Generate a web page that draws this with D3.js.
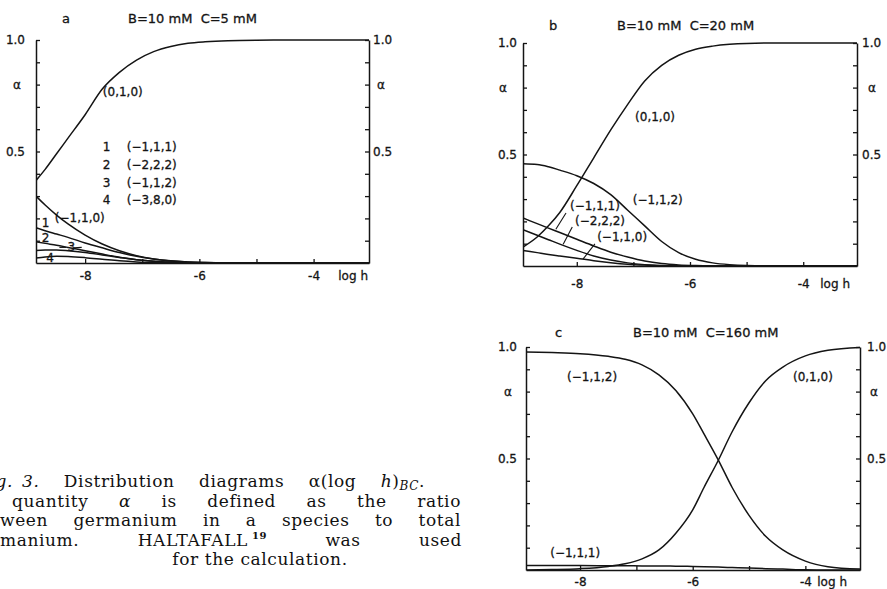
<!DOCTYPE html>
<html>
<head>
<meta charset="utf-8">
<script src="https://cdn.jsdelivr.net/npm/d3@7"></script>
<style>
  body { margin: 0; background: #fff; overflow: hidden; }
  svg { display: block; }
  .lbl { font-family: "DejaVu Sans", sans-serif; font-size: 12px; fill: #141414; stroke: #141414; stroke-width: 0.3px; }
  .ttl { font-family: "DejaVu Sans", sans-serif; font-size: 13px; fill: #141414; stroke: #141414; stroke-width: 0.3px; }
  .cap { font-family: "DejaVu Serif", serif; font-size: 17px; letter-spacing: 0.6px; fill: #111; }
</style>
</head>
<body>
<script>
// ---- data (log h vs alpha) ----
// panel a  B=10 mM C=5 mM
const LOGH_A = [-8.86, -8.7, -8.5, -8.3, -8.0, -7.7, -7.4, -7.1, -6.8, -6.5, -6.2, -5.9, -5.5, -5.0, -4.0, -3.03];
const A_010  = [0.37, 0.42, 0.49, 0.56, 0.665, 0.78, 0.855, 0.91, 0.948, 0.971, 0.985, 0.992, 0.997, 0.999, 1, 1];
const A_M110 = [0.30, 0.26, 0.215, 0.175, 0.125, 0.085, 0.055, 0.033, 0.018, 0.009, 0.004, 0.002, 0.0005, 0, 0, 0];
const A_M111 = [0.158, 0.145, 0.13, 0.115, 0.09, 0.068, 0.047, 0.03, 0.018, 0.01, 0.005, 0.002, 0.0005, 0, 0, 0];
const A_M222 = [0.095, 0.088, 0.08, 0.07, 0.055, 0.04, 0.026, 0.015, 0.008, 0.004, 0.0015, 0.0005, 0, 0, 0, 0];
const A_M112 = [0.056, 0.058, 0.058, 0.055, 0.047, 0.036, 0.025, 0.015, 0.008, 0.004, 0.0015, 0.0005, 0, 0, 0, 0];
const A_M380 = [0.022, 0.027, 0.03, 0.029, 0.024, 0.017, 0.01, 0.005, 0.002, 0.0008, 0.0002, 0, 0, 0, 0, 0];

// panel b  B=10 mM C=20 mM
const LOGH_B = [-8.95, -8.7, -8.5, -8.3, -8.0, -7.7, -7.4, -7.1, -6.8, -6.5, -6.2, -5.9, -5.6, -5.3, -5.0, -4.5, -4.0, -3.05];
const B_010  = [0.085, 0.13, 0.18, 0.24, 0.36, 0.485, 0.61, 0.725, 0.83, 0.9, 0.945, 0.972, 0.986, 0.994, 0.998, 1, 1, 1];
const B_M112 = [0.458, 0.455, 0.445, 0.43, 0.405, 0.37, 0.32, 0.25, 0.18, 0.11, 0.06, 0.03, 0.014, 0.006, 0.002, 0, 0, 0];
const B_M111 = [0.215, 0.19, 0.17, 0.15, 0.12, 0.09, 0.062, 0.04, 0.022, 0.011, 0.005, 0.002, 0.0005, 0, 0, 0, 0, 0];
const B_M222 = [0.163, 0.138, 0.118, 0.098, 0.07, 0.045, 0.027, 0.014, 0.006, 0.002, 0.0005, 0, 0, 0, 0, 0, 0, 0];
const B_M110 = [0.07, 0.06, 0.052, 0.045, 0.035, 0.024, 0.015, 0.008, 0.004, 0.0015, 0.0005, 0, 0, 0, 0, 0, 0, 0];

// panel c  B=10 mM C=160 mM
const LOGH_C = [-8.96, -8.5, -8.0, -7.5, -7.2, -6.9, -6.6, -6.3, -6.0, -5.8, -5.55, -5.3, -5.0, -4.7, -4.4, -4.0, -3.6, -3.03];
const C_M112 = [0.978, 0.975, 0.97, 0.958, 0.945, 0.92, 0.875, 0.805, 0.7, 0.61, 0.495, 0.37, 0.245, 0.15, 0.09, 0.04, 0.015, 0.004];
const C_010  = [0, 0.002, 0.006, 0.016, 0.028, 0.05, 0.09, 0.165, 0.27, 0.37, 0.49, 0.62, 0.75, 0.85, 0.91, 0.96, 0.985, 0.998];
const C_M111 = [0.02, 0.02, 0.02, 0.019, 0.019, 0.018, 0.018, 0.017, 0.016, 0.015, 0.013, 0.011, 0.009, 0.006, 0.004, 0.001, 0, 0];

// ticks
const Y_TICKS = [0.1, 0.2, 0.3, 0.4, 0.5, 0.6, 0.7, 0.8, 0.9, 1.0];
const Y_LABELLED = [0.5, 1.0];
const X_TICKS = [-8, -7, -6, -5, -4];
const X_LABELLED = [-8, -6, -4];

// ---- layout ----
const panels = [
    {
        id: "a", title: "B=10 mM\u00a0\u00a0C=5 mM",
        left: 36, right: 369, top: 40, bottom: 263, xDomain: [-8.86, -3.03],
        letterDx: 26, titleDx: 92, titleDy: -17,
        padL: 11, padR: 4, alphaL: -19, alphaR: 12, padX: 8, logHEnd: 368,
        logH: LOGH_A, series: [A_010, A_M110, A_M111, A_M222, A_M112, A_M380],
        notes: [
            {t: "(0,1,0)", h: -7.69, a: 0.749},
            {t: "1", h: -7.69, a: 0.502}, {t: "(\u22121,1,1)", h: -7.27, a: 0.502},
            {t: "2", h: -7.69, a: 0.422}, {t: "(\u22122,2,2)", h: -7.27, a: 0.422},
            {t: "3", h: -7.69, a: 0.343}, {t: "(\u22121,1,2)", h: -7.27, a: 0.343},
            {t: "4", h: -7.69, a: 0.264}, {t: "(\u22123,8,0)", h: -7.27, a: 0.264},
            {t: "(\u22121,1,0)", h: -8.53, a: 0.184},
            {t: "1", h: -8.76, a: 0.16},
            {t: "2", h: -8.76, a: 0.092},
            {t: "3", h: -8.31, a: 0.054},
            {t: "4", h: -8.68, a: 0.006}
        ],
        leaders: [
            [[-8.45, 0.07], [-8.33, 0.07]],
            [[-8.2, 0.068], [-8.06, 0.07]]
        ]
    },
    {
        id: "b", title: "B=10 mM\u00a0\u00a0C=20 mM",
        left: 523, right: 857, top: 43, bottom: 266, xDomain: [-8.95, -3.05],
        letterDx: 26, titleDx: 94, titleDy: -13,
        padL: 6, padR: 5, alphaL: -20, alphaR: 15, padX: 13, logHEnd: 850,
        logH: LOGH_B, series: [B_010, B_M112, B_M111, B_M222, B_M110],
        notes: [
            {t: "(0,1,0)", h: -6.97, a: 0.65},
            {t: "(\u22121,1,2)", h: -7.01, a: 0.278},
            {t: "(\u22121,1,1)", h: -8.12, a: 0.251},
            {t: "(\u22122,2,2)", h: -8.03, a: 0.184},
            {t: "(\u22121,1,0)", h: -7.64, a: 0.112}
        ],
        leaders: [
            [[-8.19, 0.238], [-8.37, 0.165]],
            [[-8.08, 0.175], [-8.24, 0.097]],
            [[-7.68, 0.099], [-7.89, 0.031]]
        ]
    },
    {
        id: "c", title: "B=10 mM\u00a0\u00a0C=160 mM",
        left: 526, right: 860, top: 347, bottom: 570, xDomain: [-8.96, -3.03],
        letterDx: 29, titleDx: 107, titleDy: -10,
        padL: 9, padR: 7, alphaL: -18, alphaR: 14, padX: 7, logHEnd: 847,
        logH: LOGH_C, series: [C_M112, C_010, C_M111],
        notes: [
            {t: "(\u22121,1,2)", h: -8.23, a: 0.848},
            {t: "(0,1,0)", h: -4.22, a: 0.848},
            {t: "(\u22121,1,1)", h: -8.53, a: 0.058}
        ],
        leaders: []
    }
];

const INK = "#141414";

const svg = d3.select("body").append("svg")
    .attr("width", 887)
    .attr("height", 589);

function styleAxis(g) {
    g.attr("color", INK);
    g.select(".domain").attr("stroke-width", 1.5);
    g.selectAll(".tick line").attr("stroke-width", 1.3);
    g.selectAll(".tick text").attr("class", "lbl");
}

function drawPanel(p) {
    const x = d3.scaleLinear().domain(p.xDomain).range([p.left, p.right]);
    const y = d3.scaleLinear().domain([0, 1]).range([p.bottom, p.top]);
    const g = svg.append("g").attr("class", "panel-" + p.id);

    g.append("clipPath").attr("id", "clip-" + p.id)
        .append("rect")
        .attr("x", p.left).attr("y", p.top - 2)
        .attr("width", p.right - p.left).attr("height", p.bottom - p.top + 2);

    const line = d3.line()
        .x((d) => x(d[0]))
        .y((d) => y(d[1]))
        .curve(d3.curveMonotoneX);

    g.append("g").attr("clip-path", "url(#clip-" + p.id + ")")
        .selectAll("path")
        .data(p.series)
        .join("path")
        .attr("d", (s) => line(p.logH.map((h, i) => [h, s[i]])))
        .attr("fill", "none")
        .attr("stroke", INK)
        .attr("stroke-width", 1.5);

    const yFmt = (d) => Y_LABELLED.includes(d) ? d.toFixed(1) : "";

    g.append("g")
        .attr("transform", "translate(" + p.left + ",0)")
        .call(d3.axisLeft(y).tickValues(Y_TICKS).tickFormat(yFmt)
            .tickSizeInner(-4).tickSizeOuter(0).tickPadding(p.padL))
        .call(styleAxis);

    g.append("g")
        .attr("transform", "translate(" + p.right + ",0)")
        .call(d3.axisRight(y).tickValues(Y_TICKS).tickFormat(yFmt)
            .tickSizeInner(-4).tickSizeOuter(0).tickPadding(p.padR))
        .call(styleAxis);

    g.append("g")
        .attr("transform", "translate(0," + p.bottom + ")")
        .call(d3.axisBottom(x).tickValues(X_TICKS)
            .tickFormat((d) => X_LABELLED.includes(d) ? "-" + Math.abs(d) : "")
            .tickSizeInner(-4).tickSizeOuter(0).tickPadding(p.padX))
        .call(styleAxis);

    // axis names
    g.append("text").attr("class", "lbl")
        .attr("x", p.logHEnd).attr("y", p.bottom + p.padX + 8.5)
        .attr("text-anchor", "end")
        .text("log h");

    [p.left + p.alphaL, p.right + p.alphaR].forEach((ax) => {
        g.append("text").attr("class", "lbl")
            .attr("x", ax).attr("y", y(0.8)).attr("dy", "0.35em")
            .attr("text-anchor", "middle")
            .text("\u03b1");
    });

    // panel letter and conditions
    g.append("text").attr("class", "ttl")
        .attr("x", p.left + p.letterDx).attr("y", p.top + p.titleDy)
        .text(p.id);
    g.append("text").attr("class", "ttl")
        .attr("x", p.left + p.titleDx).attr("y", p.top + p.titleDy)
        .text(p.title);

    // species labels
    g.selectAll("text.note")
        .data(p.notes)
        .join("text")
        .attr("class", "lbl note")
        .attr("x", (d) => x(d.h))
        .attr("y", (d) => y(d.a))
        .text((d) => d.t);

    g.selectAll("line.leader")
        .data(p.leaders)
        .join("line")
        .attr("class", "leader")
        .attr("x1", (d) => x(d[0][0])).attr("y1", (d) => y(d[0][1]))
        .attr("x2", (d) => x(d[1][0])).attr("y2", (d) => y(d[1][1]))
        .attr("stroke", INK)
        .attr("stroke-width", 1.1);
}

panels.forEach(drawPanel);

// ---- caption (justified, left part cut off by the page edge) ----
// the text is shifted so that character `anchor` lands at x = `at`;
// parts flagged "fix" keep a normal word gap and are left out of the justification
const CAPTION = [
    {anchor: 5, at: 25, right: 428, parts: [["Fig. 3.", "fix"], [" Distribution diagrams \u03b1(log ", ""], ["h", "i"], [")", ""], ["BC", "sub"], [".", "back"]]},
    {anchor: 4, at: 12, right: 461, parts: [["The quantity ", ""], ["\u03b1", "i"], [" is defined as the ratio", ""]]},
    {anchor: 3, at: 0, right: 461, parts: [["between germanium in a species to total", ""]]},
    {anchor: 3, at: 0, right: 462, parts: [["germanium. HALTAFALL", ""], ["19", "sup"], [" was used", "back"]]}
];
const CAP_TOP = 487;
const CAP_STEP = 19.6;
const FIX_GAP = 3;

CAPTION.forEach((ln, i) => {
    const t = svg.append("text").attr("class", "cap")
        .attr("x", 0).attr("y", CAP_TOP + i * CAP_STEP);
    let shift = 0;
    let fixedSpaces = 0;
    let extra = 0;
    ln.parts.forEach(([s, kind]) => {
        const ts = t.append("tspan").text(s);
        if (kind === "i") ts.attr("font-style", "italic");
        if (kind === "fix") {
            ts.attr("font-style", "italic").style("word-spacing", FIX_GAP + "px");
            fixedSpaces += (s.match(/ /g) || []).length;
        } else if (kind === "sub") {
            ts.attr("font-style", "italic").attr("font-size", "12px").attr("dy", 3);
            shift = 3;
        } else if (kind === "sup") {
            ts.attr("font-size", "10px").attr("font-weight", "bold").attr("dy", -7).attr("dx", 4);
            shift = -7;
            extra += 4;
        } else if (kind === "back") {
            ts.attr("dy", -shift);
            shift = 0;
        }
    });
    const full = ln.parts.map((d) => d[0]).join("");
    const L = t.node().getComputedTextLength() + extra;
    const p0 = t.node().getStartPositionOfChar(ln.anchor).x;
    const n = (full.match(/ /g) || []).length - fixedSpaces;
    const k = (full.slice(0, ln.anchor).match(/ /g) || []).length;
    // spaces before the anchor: fixed ones already grew by FIX_GAP in p0? no, measured before styling gaps
    const kFree = Math.max(0, k - fixedSpaces);
    const pre = p0 + (k - kFree) * FIX_GAP;
    const ws = (ln.right - ln.at - (L + fixedSpaces * FIX_GAP) + pre) / (n - kFree);
    t.style("word-spacing", ws + "px")
        .attr("x", ln.at - pre - kFree * ws);
});

svg.append("text").attr("class", "cap")
    .attr("x", 260).attr("y", CAP_TOP + 4 * CAP_STEP)
    .attr("text-anchor", "middle")
    .text("for the calculation.");
</script>
</body>
</html>
